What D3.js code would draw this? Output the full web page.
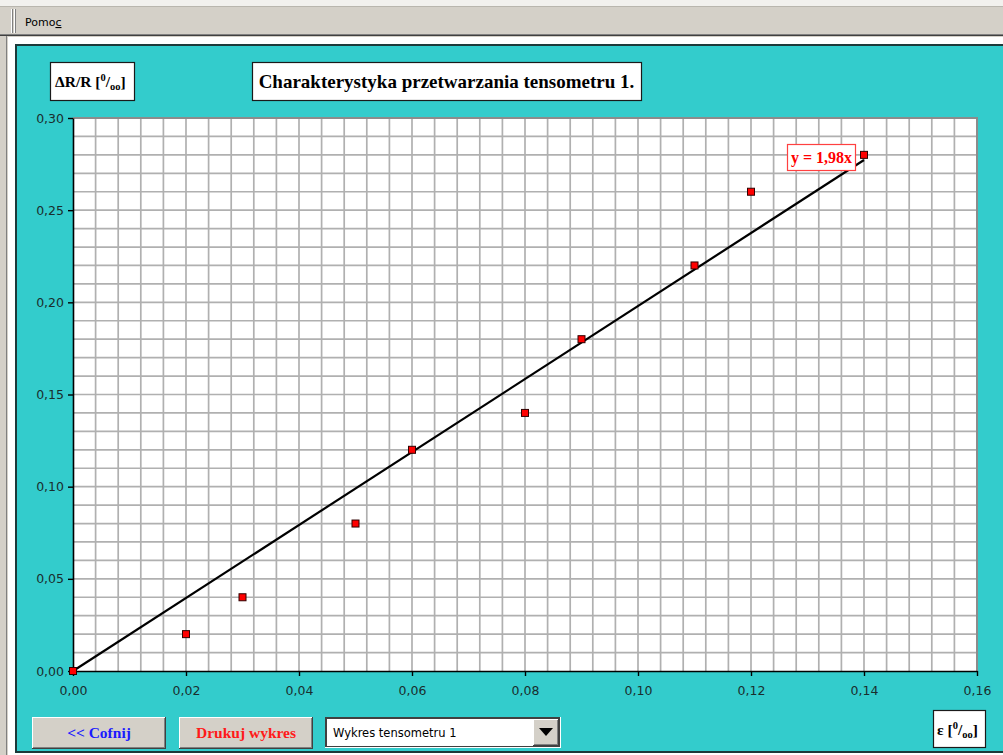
<!DOCTYPE html>
<html>
<head>
<meta charset="utf-8">
<script src="https://cdn.jsdelivr.net/npm/d3@7"></script>
<style>
  html, body { margin: 0; padding: 0; background: #d4d0c8; }
  svg { display: block; }
</style>
</head>
<body>
<svg id="chart" width="1003" height="755"></svg>
<script>
// Measured points: strain ε [‰] and relative resistance change ΔR/R [‰]
const strain = [0, 0.02, 0.03, 0.05, 0.06, 0.08, 0.09, 0.11, 0.12, 0.14];
const resistance = [0, 0.02, 0.04, 0.08, 0.12, 0.14, 0.18, 0.22, 0.26, 0.28];
// Fitted characteristic y = a·x
const slope = 1.98;
const fitRange = [0, 0.14];
// Axis ticks
const xTicks = [0, 0.02, 0.04, 0.06, 0.08, 0.10, 0.12, 0.14, 0.16];
const yTicks = [0, 0.05, 0.10, 0.15, 0.20, 0.25, 0.30];
const xGridStep = 0.004;
const yGridStep = 0.01;

const svg = d3.select("#chart");
const TEAL = "#33cccc";
const serif = "'Liberation Serif', 'Times New Roman', serif";
const fmt = v => d3.format(".2f")(v).replace(".", ",");

// ---- Window chrome ----
svg.append("rect").attr("x", 0).attr("y", 0).attr("width", 1003).attr("height", 755).attr("fill", "#d4d0c8");
svg.append("rect").attr("x", 0).attr("y", 0).attr("width", 1003).attr("height", 6).attr("fill", "#f2f1ee");
svg.append("line").attr("x1", 0).attr("x2", 1003).attr("y1", 6.5).attr("y2", 6.5).attr("stroke", "#b9b6ae");
// menu grip
[11, 14].forEach(x => {
  svg.append("line").attr("x1", x + 0.5).attr("x2", x + 0.5).attr("y1", 9).attr("y2", 33).attr("stroke", "#ffffff");
  svg.append("line").attr("x1", x + 1.5).attr("x2", x + 1.5).attr("y1", 9).attr("y2", 33).attr("stroke", "#808080");
});
const menu = svg.append("text").attr("x", 25).attr("y", 26).attr("font-family", "Tahoma, 'DejaVu Sans', sans-serif")
  .attr("font-size", 11).attr("fill", "#000");
menu.append("tspan").text("Pomo");
menu.append("tspan").attr("text-decoration", "underline").text("c");
svg.append("line").attr("x1", 0).attr("x2", 1003).attr("y1", 34.5).attr("y2", 34.5).attr("stroke", "#808080");
svg.append("line").attr("x1", 0).attr("x2", 1003).attr("y1", 35.5).attr("y2", 35.5).attr("stroke", "#404040");

// sunken frame
svg.append("rect").attr("x", 8).attr("y", 37).attr("width", 995).attr("height", 718).attr("fill", "#ffffff");
svg.append("line").attr("x1", 6.5).attr("x2", 6.5).attr("y1", 36).attr("y2", 755).attr("stroke", "#808080");
svg.append("rect").attr("x", 15).attr("y", 44).attr("width", 988).attr("height", 709).attr("fill", "#1c3a3a");
svg.append("rect").attr("x", 17).attr("y", 46).attr("width", 986).attr("height", 705).attr("fill", TEAL);

// ---- Plot area ----
const x = d3.scaleLinear().domain([0, 0.16]).range([73, 977]);
const y = d3.scaleLinear().domain([0, 0.30]).range([671, 118]);

svg.append("rect").attr("x", x(0)).attr("y", y(0.30)).attr("width", x(0.16) - x(0)).attr("height", y(0) - y(0.30))
  .attr("fill", "#ffffff");

const grid = svg.append("g").attr("stroke", "#b0b0b0").attr("stroke-width", 1.7);
d3.range(1, Math.round(0.16 / xGridStep)).forEach(i => {
  const v = i * xGridStep;
  grid.append("line").attr("x1", x(v)).attr("x2", x(v)).attr("y1", y(0)).attr("y2", y(0.30));
});
d3.range(1, Math.round(0.30 / yGridStep)).forEach(i => {
  const v = i * yGridStep;
  grid.append("line").attr("x1", x(0)).attr("x2", x(0.16)).attr("y1", y(v)).attr("y2", y(v));
});
// plot border (top / right)
svg.append("path").attr("d", `M${x(0)},${y(0.30)}H${x(0.16)}V${y(0)}`).attr("fill", "none")
  .attr("stroke", "#8c8c8c").attr("stroke-width", 2);

// Axes
const xAxis = d3.axisBottom(x).tickValues(xTicks).tickFormat(fmt).tickSize(5).tickSizeOuter(0);
const yAxis = d3.axisLeft(y).tickValues(yTicks).tickFormat(fmt).tickSize(5).tickSizeOuter(0);

const gx = svg.append("g").attr("transform", `translate(0,${y(0)})`).call(xAxis);
const gy = svg.append("g").attr("transform", `translate(${x(0)},0)`).call(yAxis);
[gx, gy].forEach(g => {
  g.select(".domain").attr("stroke", "#000").attr("stroke-width", 1.6);
  g.selectAll(".tick line").attr("stroke", "#000").attr("stroke-width", 1.4);
  g.selectAll(".tick text").attr("font-family", "Tahoma, 'DejaVu Sans', sans-serif").attr("font-size", 12.5)
    .attr("fill", "#1a2e2e");
});
gx.selectAll(".tick text").attr("dy", "1.25em").attr("y", 8);
gy.selectAll(".tick text").attr("x", -9);

// Fitted line
svg.append("line")
  .attr("x1", x(fitRange[0])).attr("y1", y(slope * fitRange[0]))
  .attr("x2", x(fitRange[1])).attr("y2", y(slope * fitRange[1]))
  .attr("stroke", "#000").attr("stroke-width", 2.2);

// Measured points
svg.append("g").selectAll("rect").data(strain.map((s, i) => [s, resistance[i]])).join("rect")
  .attr("x", d => x(d[0]) - 3.5).attr("y", d => y(d[1]) - 3.5)
  .attr("width", 7).attr("height", 7)
  .attr("fill", "#ff0000").attr("stroke", "#300000").attr("stroke-width", 1);

// Equation label
const eq = svg.append("g");
eq.append("rect").attr("x", 787.5).attr("y", 144.5).attr("width", 68).attr("height", 26)
  .attr("fill", "#ffffff").attr("stroke", "#ff4040").attr("stroke-width", 1.2);
eq.append("text").attr("x", 821.5).attr("y", 163).attr("text-anchor", "middle")
  .attr("font-family", serif).attr("font-weight", "bold").attr("font-size", 16).attr("fill", "#ff0000")
  .text(`y = ${String(slope).replace(".", ",")}x`);

// ---- Labels ----
function labelBox(x0, y0, w, h) {
  svg.append("rect").attr("x", x0 + 0.5).attr("y", y0 + 0.5).attr("width", w).attr("height", h)
    .attr("fill", "#ffffff").attr("stroke", "#1a1a1a").attr("stroke-width", 1.2);
}
function unitText(tx, ty, prefix) {
  const t = svg.append("text").attr("x", tx).attr("y", ty).attr("font-family", serif)
    .attr("font-weight", "bold").attr("font-size", 15.5).attr("fill", "#000");
  t.append("tspan").text(prefix + " [");
  t.append("tspan").attr("font-size", 10.5).attr("dy", -6).text("0");
  t.append("tspan").attr("dy", 6).text("/");
  t.append("tspan").attr("font-size", 10.5).attr("dy", 3).text("oo");
  t.append("tspan").attr("dy", -3).text("]");
  return t;
}
labelBox(50, 62, 84, 38);
unitText(55, 87, "ΔR/R");

labelBox(252, 62, 389, 38);
svg.append("text").attr("x", 446.5).attr("y", 88).attr("text-anchor", "middle")
  .attr("font-family", serif).attr("font-weight", "bold").attr("font-size", 19).attr("fill", "#000")
  .text("Charakterystyka przetwarzania tensometru 1.");

labelBox(933, 710, 52, 37);
unitText(937, 735, "ε");

// ---- Controls ----
function button(x0, y0, w, h, label, color) {
  const g = svg.append("g");
  g.append("rect").attr("x", x0).attr("y", y0).attr("width", w).attr("height", h).attr("fill", "#404040");
  g.append("rect").attr("x", x0).attr("y", y0).attr("width", w - 1).attr("height", h - 1).attr("fill", "#ffffff");
  g.append("rect").attr("x", x0 + 1).attr("y", y0 + 1).attr("width", w - 2).attr("height", h - 2).attr("fill", "#808080");
  g.append("rect").attr("x", x0 + 1).attr("y", y0 + 1).attr("width", w - 3).attr("height", h - 3).attr("fill", "#d4d0c8");
  g.append("text").attr("x", x0 + w / 2).attr("y", y0 + h / 2 + 5).attr("text-anchor", "middle")
    .attr("font-family", serif).attr("font-weight", "bold").attr("font-size", 15.5).attr("fill", color).text(label);
}
button(32, 717, 134, 32, "<< Cofnij", "#1a1aff");
button(179, 717, 134, 32, "Drukuj wykres", "#ff1a1a");

// combo box
const cb = svg.append("g");
cb.append("rect").attr("x", 325).attr("y", 717).attr("width", 236).attr("height", 31).attr("fill", "#ffffff");
cb.append("rect").attr("x", 325).attr("y", 717).attr("width", 235).attr("height", 30).attr("fill", "#404040");
cb.append("rect").attr("x", 327).attr("y", 719).attr("width", 232).attr("height", 27).attr("fill", "#ffffff");
cb.append("text").attr("x", 333).attr("y", 737).attr("font-family", "Tahoma, 'DejaVu Sans', sans-serif")
  .attr("font-size", 11.5).attr("fill", "#000").text("Wykres tensometru 1");
cb.append("rect").attr("x", 533).attr("y", 719).attr("width", 26).attr("height", 27).attr("fill", "#404040");
cb.append("rect").attr("x", 533).attr("y", 719).attr("width", 25).attr("height", 26).attr("fill", "#ffffff");
cb.append("rect").attr("x", 534).attr("y", 720).attr("width", 24).attr("height", 25).attr("fill", "#808080");
cb.append("rect").attr("x", 534).attr("y", 720).attr("width", 23).attr("height", 24).attr("fill", "#d4d0c8");
cb.append("path").attr("d", "M539,728 L553,728 L546,736 Z").attr("fill", "#000");
</script>
</body>
</html>
